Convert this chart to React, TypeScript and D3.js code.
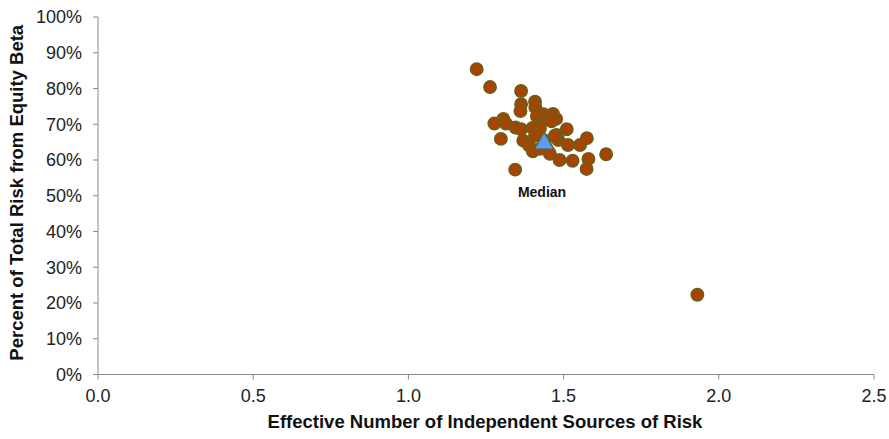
import React from "react";
import * as d3 from "d3";

// Effective number of independent sources of risk (x) and percent of total risk from equity beta (y)
const sourcesOfRisk = [
  1.220, 1.263, 1.363, 1.363, 1.361, 1.408, 1.409, 1.414, 1.435, 1.443,
  1.466, 1.476, 1.461, 1.277, 1.306, 1.314, 1.345, 1.363, 1.298, 1.370,
  1.389, 1.400, 1.424, 1.408, 1.401, 1.456, 1.477, 1.483, 1.510, 1.514,
  1.487, 1.529, 1.553, 1.575, 1.580, 1.574, 1.637, 1.344, 1.472, 1.931,
  1.440, 1.424,
];
const equityBetaShare = [
  85.4, 80.4, 79.3, 75.6, 73.7, 76.3, 74.7, 72.2, 72.8, 71.4,
  72.9, 71.5, 70.8, 70.2, 71.5, 70.2, 69.1, 68.6, 65.9, 65.4,
  64.0, 69.0, 68.9, 66.8, 62.4, 61.7, 67.0, 65.6, 68.6, 64.2,
  60.0, 59.8, 64.2, 66.1, 60.3, 57.5, 61.6, 57.3, 66.8, 22.3,
  65.4, 63.1,
];
const medianX = 1.437;
const medianY = 64.6;
const medianLabel = "Median";

const xTicks = [0, 0.5, 1.0, 1.5, 2.0, 2.5];
const yTicks = [0, 10, 20, 30, 40, 50, 60, 70, 80, 90, 100];
const xTitle = "Effective Number of Independent Sources of Risk";
const yTitle = "Percent of Total Risk from Equity Beta";

export default function App() {
  const W = 889;
  const H = 439;
  const x = d3.scaleLinear().domain([0, 2.5]).range([98, 874]);
  const y = d3.scaleLinear().domain([0, 100]).range([374.5, 17]);
  const font = "'Liberation Sans', Arial, sans-serif";
  const axisColor = "#898989";
  const tri = d3.symbol().type(d3.symbolTriangle).size(175)();
  const points = sourcesOfRisk.map((v, i) => ({ x: v, y: equityBetaShare[i] }));

  return (
    <svg
      width={W}
      height={H}
      style={{ position: "absolute", left: 0, top: 0, background: "#fff" }}
      fontFamily={font}
    >
      {/* y axis */}
      <line x1={x(0)} x2={x(0)} y1={y(0)} y2={y(100)} stroke={axisColor} strokeWidth={1} />
      {yTicks.map((t) => (
        <g key={"y" + t}>
          <line x1={x(0) - 5} x2={x(0)} y1={y(t)} y2={y(t)} stroke={axisColor} strokeWidth={1} />
          <text x={82} y={y(t)} dy="0.35em" textAnchor="end" fontSize={18} fill="#222">
            {t + "%"}
          </text>
        </g>
      ))}
      {/* x axis */}
      <line x1={x(0)} x2={x(2.5)} y1={y(0)} y2={y(0)} stroke={axisColor} strokeWidth={1} />
      {xTicks.map((t) => (
        <g key={"x" + t}>
          <line x1={x(t)} x2={x(t)} y1={y(0)} y2={y(0) + 5} stroke={axisColor} strokeWidth={1} />
          <text x={x(t)} y={402} textAnchor="middle" fontSize={18} fill="#222">
            {t.toFixed(1)}
          </text>
        </g>
      ))}
      {/* points */}
      {points.map((p, i) => (
        <circle
          key={i}
          cx={x(p.x)}
          cy={y(p.y)}
          r={6.2}
          fill="#A84400"
          stroke="#66601E"
          strokeWidth={1.5}
        />
      ))}
      {/* median */}
      <path
        d={tri || ""}
        transform={`translate(${x(medianX)},${y(medianY)})`}
        fill="#5B9BF5"
        stroke="#66601E"
        strokeWidth={1.5}
      />
      <text x={x(medianX) - 2} y={197} textAnchor="middle" fontSize={14} fontWeight="bold" fill="#111">
        {medianLabel}
      </text>
      {/* titles */}
      <text x={485} y={428} textAnchor="middle" fontSize={18.5} fontWeight="bold" fill="#111">
        {xTitle}
      </text>
      <text
        transform={`translate(23,${(y(0) + y(100)) / 2 - 3}) rotate(-90)`}
        textAnchor="middle"
        fontSize={18.5}
        fontWeight="bold"
        fill="#111"
      >
        {yTitle}
      </text>
    </svg>
  );
}
